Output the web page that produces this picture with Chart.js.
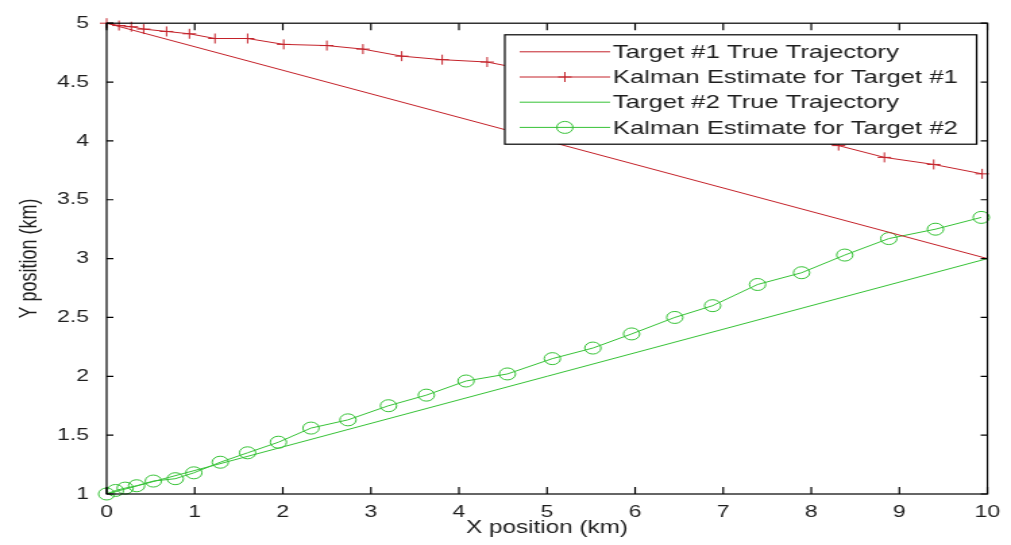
<!DOCTYPE html>
<html>
<head>
<meta charset="utf-8">
<script src="https://cdn.jsdelivr.net/npm/chart.js@4.4.0/dist/chart.umd.min.js"></script>
<style>
  html, body { margin: 0; padding: 0; background: #fff; overflow: hidden; }
  /* the reference is horizontally stretched, so draw narrow and stretch */
  #wrap { position: relative; width: 749px; height: 545px; transform: scaleX(1.3498); transform-origin: 0 0; }
</style>
</head>
<body>
<div id="wrap"><canvas id="trackChart"></canvas></div>
<script>
// True trajectories
const target1TrueX = [0, 10];
const target1TrueY = [5, 3];
const target2TrueX = [0, 10];
const target2TrueY = [1, 3];

// Kalman estimates
const kalman1X = [0, 0.14, 0.28, 0.42, 0.68, 0.94, 1.23, 1.60, 2.01, 2.50, 2.91, 3.35, 3.81, 4.32,
                  4.80, 5.30, 5.80, 6.30, 6.80, 7.30, 7.80, 8.31, 8.83, 9.39, 9.94];
const kalman1Y = [5.0, 4.98, 4.97, 4.95, 4.93, 4.91, 4.87, 4.87, 4.82, 4.81, 4.78, 4.72, 4.69, 4.67,
                  4.60, 4.52, 4.43, 4.34, 4.24, 4.14, 4.05, 3.96, 3.86, 3.80, 3.72];
const kalman2X = [0, 0.10, 0.21, 0.34, 0.53, 0.78, 0.99, 1.29, 1.60, 1.95, 2.32, 2.74, 3.20, 3.63,
                  4.08, 4.55, 5.06, 5.52, 5.96, 6.45, 6.88, 7.39, 7.89, 8.38, 8.88, 9.41, 9.93];
const kalman2Y = [1.0, 1.03, 1.05, 1.07, 1.11, 1.13, 1.18, 1.27, 1.35, 1.44, 1.56, 1.63, 1.75, 1.84,
                  1.96, 2.02, 2.15, 2.24, 2.36, 2.50, 2.60, 2.78, 2.88, 3.03, 3.17, 3.25, 3.35];

const seriesLabels = [
    "Target #1 True Trajectory",
    "Kalman Estimate for Target #1",
    "Target #2 True Trajectory",
    "Kalman Estimate for Target #2"
];

const xTitle = "X position (km)";
const yTitle = "Y position (km)";

const RED = "#c4222a";
const GREEN = "#36c236";
const TEXT = "#1e1e1e";
const FONT = "'Liberation Sans', Arial, sans-serif";

function toPoints(xs, ys) {
    return xs.map((x, i) => ({ x: x, y: ys[i] }));
}

// MATLAB style box with inward ticks on all four sides
const framePlugin = {
    id: "frame",
    afterDatasetsDraw(chart) {
        const { ctx, chartArea: a } = chart;
        const xs = chart.scales.x, ys = chart.scales.y;
        ctx.save();
        ctx.strokeStyle = "#000";
        ctx.lineWidth = 1.2;
        ctx.strokeRect(a.left, a.top, a.right - a.left, a.bottom - a.top);
        ctx.beginPath();
        xs.ticks.forEach(t => {
            const px = xs.getPixelForValue(t.value);
            ctx.moveTo(px, a.bottom); ctx.lineTo(px, a.bottom - 7);
            ctx.moveTo(px, a.top); ctx.lineTo(px, a.top + 7);
        });
        ys.ticks.forEach(t => {
            const py = ys.getPixelForValue(t.value);
            ctx.moveTo(a.left, py); ctx.lineTo(a.left + 5, py);
            ctx.moveTo(a.right, py); ctx.lineTo(a.right - 5, py);
        });
        ctx.stroke();
        ctx.restore();
    }
};

// legend box drawn inside the plot, top right, over the data
const boxLegend = {
    id: "boxLegend",
    afterDraw(chart) {
        const { ctx, chartArea: a } = chart;
        ctx.save();
        ctx.font = "19px " + FONT;
        const widths = chart.data.datasets.map(d => ctx.measureText(d.label).width);
        const lineW = 67, padL = 11, gap = 2, padR = 14, rowH = 25.2;
        const boxW = padL + lineW + gap + Math.max(...widths) + padR;
        const boxH = 109.4;
        const right = a.right - 8;
        const left = right - boxW;
        const top = a.top + 11.6;

        ctx.fillStyle = "#fff";
        ctx.fillRect(left, top, boxW, boxH);
        ctx.strokeStyle = "#000";
        ctx.lineWidth = 1.2;
        ctx.strokeRect(left, top, boxW, boxH);

        chart.data.datasets.forEach((d, i) => {
            const cy = top + 17 + i * rowH;
            const x0 = left + padL, x1 = x0 + lineW, cx = (x0 + x1) / 2;
            ctx.strokeStyle = d.borderColor;
            ctx.lineWidth = 1;
            ctx.beginPath();
            ctx.moveTo(x0, cy); ctx.lineTo(x1, cy);
            ctx.stroke();
            if (d.pointRadius > 0) {
                const r = d.pointRadius;
                ctx.beginPath();
                if (d.pointStyle === "cross") {
                    ctx.moveTo(cx - r, cy); ctx.lineTo(cx + r, cy);
                    ctx.moveTo(cx, cy - r); ctx.lineTo(cx, cy + r);
                } else {
                    ctx.arc(cx, cy, r, 0, Math.PI * 2);
                }
                ctx.stroke();
            }
            ctx.fillStyle = TEXT;
            ctx.textBaseline = "middle";
            ctx.textAlign = "left";
            ctx.fillText(d.label, x1 + gap, cy + 1);
        });
        ctx.restore();
    }
};

const ctx = document.getElementById("trackChart").getContext("2d");
const trackChart = new Chart(ctx, {
    type: "line",
    data: {
        datasets: [
            {
                label: seriesLabels[0],
                data: toPoints(target1TrueX, target1TrueY),
                borderColor: RED, borderWidth: 1, pointRadius: 0, tension: 0
            },
            {
                label: seriesLabels[1],
                data: toPoints(kalman1X, kalman1Y),
                borderColor: RED, borderWidth: 1, tension: 0,
                pointStyle: "cross", pointRadius: 5, pointBorderWidth: 1,
                pointBorderColor: RED, clip: false
            },
            {
                label: seriesLabels[2],
                data: toPoints(target2TrueX, target2TrueY),
                borderColor: GREEN, borderWidth: 1, pointRadius: 0, tension: 0
            },
            {
                label: seriesLabels[3],
                data: toPoints(kalman2X, kalman2Y),
                borderColor: GREEN, borderWidth: 1, tension: 0,
                pointStyle: "circle", pointRadius: 6, pointBorderWidth: 1,
                pointBorderColor: GREEN, pointBackgroundColor: "rgba(0,0,0,0)", clip: false
            }
        ]
    },
    options: {
        responsive: true,
        maintainAspectRatio: false,
        animation: false,
        layout: { padding: { top: 21, right: 13, left: 0, bottom: 0 } },
        plugins: {
            legend: { display: false },
            tooltip: { enabled: false }
        },
        scales: {
            x: {
                type: "linear",
                min: 0, max: 10,
                grid: { display: false, drawTicks: false },
                border: { display: false },
                ticks: { stepSize: 1, color: TEXT, padding: 8, font: { size: 17, family: FONT },
                         callback: v => String(v) },
                title: { display: true, text: xTitle, color: TEXT, font: { size: 18, family: FONT }, padding: { top: 0, bottom: 6 } },
                afterFit(scale) { scale.height = 51; }
            },
            y: {
                type: "linear",
                min: 1, max: 5,
                grid: { display: false, drawTicks: false },
                border: { display: false },
                ticks: { stepSize: 0.5, color: TEXT, padding: 13, font: { size: 17, family: FONT },
                         callback: v => String(v) },
                title: { display: true, text: yTitle, color: TEXT, font: { size: 18, family: FONT }, padding: { top: 11, bottom: 0 } },
                afterFit(scale) { scale.width = 79; }
            }
        }
    },
    plugins: [framePlugin, boxLegend]
});
</script>
</body>
</html>
